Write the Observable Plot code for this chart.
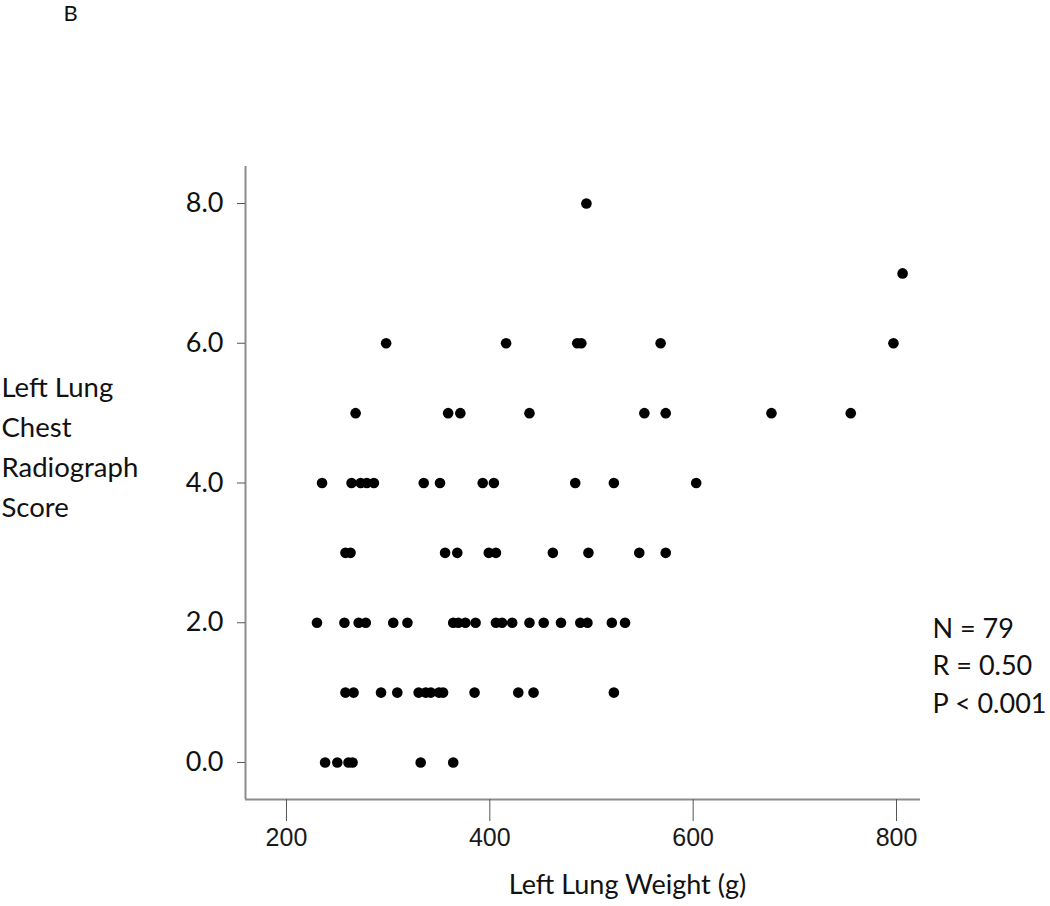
<!DOCTYPE html>
<html><head><meta charset="utf-8">
<script src="https://cdn.jsdelivr.net/npm/d3@7"></script>
<script src="https://cdn.jsdelivr.net/npm/@observablehq/plot@0.6"></script>
<style>body{margin:0;background:#fff;} #chart{width:1050px;height:906px}</style>
</head><body><div id="chart"></div>
<script>
// Left lung weight (g) for each chest radiograph score
const weightsScore0 = [238, 250, 261, 265, 332, 364];
const weightsScore1 = [258, 266, 293, 309, 330, 337, 342, 350, 354, 385, 428, 443, 522];
const weightsScore2 = [230, 257, 271, 278, 305, 319, 364, 369, 376, 386, 406, 412, 422, 439, 453, 470, 489, 496, 520, 533];
const weightsScore3 = [258, 263, 356, 368, 399, 406, 462, 497, 547, 573];
const weightsScore4 = [235, 264, 273, 279, 286, 335, 351, 393, 404, 484, 522, 603];
const weightsScore5 = [268, 359, 371, 439, 552, 573, 677, 755];
const weightsScore6 = [298, 416, 486, 490, 568, 797];
const weightsScore7 = [806];
const weightsScore8 = [495];
const scores = [0, 1, 2, 3, 4, 5, 6, 7, 8];
const xTicks = [200, 400, 600, 800];
const yTicks = [0, 2, 4, 6, 8];
const panelLabel = "B";
const xTitle = "Left Lung Weight (g)";
const yTitleLines = ["Left Lung", "Chest", "Radiograph", "Score"];
const statsLines = ["N = 79", "R = 0.50", "P < 0.001"];

const groups = [weightsScore0, weightsScore1, weightsScore2, weightsScore3, weightsScore4,
                weightsScore5, weightsScore6, weightsScore7, weightsScore8];
const points = groups.flatMap((ws, i) => ws.map(w => ({weight: w, score: scores[i]})));

const xDomain = [159.7, 823.6];
const yDomain = [-0.53, 8.53];
const mL = 245, mR = 130, mT = 166, mB = 107;

const chart = Plot.plot({
  width: 1050, height: 906,
  marginLeft: mL, marginRight: mR, marginTop: mT, marginBottom: mB,
  x: {domain: xDomain},
  y: {domain: yDomain},
  style: {background: "#fff", fontFamily: "Lato, sans-serif", color: "#111"},
  marks: [
    Plot.ruleX([xDomain[0]], {stroke: "#8c8c8c", strokeWidth: 2}),
    Plot.ruleY([yDomain[0]], {stroke: "#8c8c8c", strokeWidth: 2}),
    Plot.axisX({ticks: xTicks, tickSize: 22, tickPadding: 7, tickFormat: d => String(d),
      stroke: "#555", fill: "#1a1a1a", fontSize: 25, fontFamily: "Liberation Sans, Arial, sans-serif", label: null}),
    Plot.axisY({ticks: yTicks, tickSize: 8, tickPadding: 14, tickFormat: d3.format(".1f"),
      stroke: "#555", fill: "#111", fontSize: 27, fontFamily: "Lato, sans-serif", label: null}),
    Plot.dot(points, {x: "weight", y: "score", r: 5.3, fill: "#000", stroke: null}),
    Plot.text([panelLabel], {frameAnchor: "top-left", lineAnchor: "bottom", textAnchor: "start",
      dx: 63 - mL, dy: 20 - mT, fontSize: 22, fill: "#111"}),
    Plot.text([yTitleLines.join("\n")], {frameAnchor: "top-left", lineAnchor: "bottom", textAnchor: "start",
      dx: 1 - mL, dy: 516 - mT, fontSize: 27.5, lineHeight: 39.7 / 27.5, fill: "#111"}),
    Plot.text([statsLines.join("\n")], {frameAnchor: "top-left", lineAnchor: "bottom", textAnchor: "start",
      dx: 932 - mL, dy: 712 - mT, fontSize: 27, lineHeight: 37.5 / 27, fill: "#111"}),
    Plot.text([xTitle], {frameAnchor: "bottom", lineAnchor: "bottom", textAnchor: "middle",
      dx: 627 - (mL + (1050 - mR)) / 2, dy: 893 - (906 - mB), fontSize: 27, fill: "#111"})
  ]
});
document.getElementById("chart").appendChild(chart);
</script>
</body></html>
